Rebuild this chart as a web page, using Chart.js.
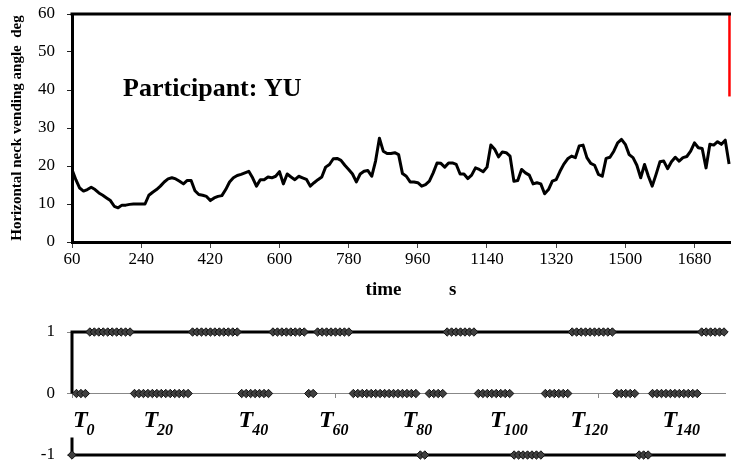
<!DOCTYPE html>
<html lang="en">
  <head>
    <meta charset="UTF-8" />
    <title>Participant YU - neck bending angle</title>
    <style>
      body {
        margin: 0;
        background-color: #fff;
      }

      #wrap {
        position: relative;
        width: 731px;
        height: 464px;
        overflow: hidden;
      }

      canvas {
        position: absolute;
        left: 0;
      }

      #angle-chart {
        top: 0;
      }

      #state-chart {
        top: 310px;
      }
    </style>
  </head>
  <body>
    <div id="wrap">
      <canvas id="angle-chart" width="731" height="302"></canvas>
      <canvas id="state-chart" width="731" height="154"></canvas>
    </div>

    <script src="https://cdn.jsdelivr.net/npm/chart.js"></script>
    <script>
      // top chart: horizontal neck bending angle (deg), one sample every 10 s
      var startSec = 60;
      var stepSec = 10;
      var angle = [
        19.1, 16.4, 14.2, 13.4, 13.8, 14.4, 13.8, 12.9, 12.3, 11.6,
        10.9, 9.4, 9.0, 9.7, 9.7, 9.9, 10.0, 10.0, 10.0, 10.0,
        12.3, 13.1, 13.8, 14.7, 15.8, 16.6, 16.9, 16.6, 16.0, 15.3,
        16.2, 16.2, 13.5, 12.5, 12.3, 12.0, 10.9, 11.6, 12.0, 12.2,
        13.8, 15.8, 16.9, 17.5, 17.8, 18.2, 18.6, 16.9, 14.7, 16.4,
        16.4, 17.1, 16.9, 17.3, 18.5, 15.3, 17.9, 17.1, 16.4, 17.3,
        16.9, 16.5, 14.7, 15.6, 16.4, 17.1, 19.7, 20.4, 21.9, 22.0,
        21.5, 20.2, 19.1, 17.9, 15.8, 17.9, 18.6, 18.8, 17.3, 21.3,
        27.3, 23.9, 23.3, 23.3, 23.5, 23.0, 18.0, 17.3, 15.8, 15.8,
        15.6, 14.7, 15.1, 16.0, 18.2, 20.8, 20.7, 19.7, 20.8, 20.8,
        20.4, 17.9, 17.9, 16.7, 17.6, 19.5, 19.1, 18.5, 19.7, 25.5,
        24.4, 22.4, 23.7, 23.5, 22.6, 16.0, 16.2, 19.1, 18.2, 17.6,
        15.3, 15.6, 15.3, 12.7, 13.8, 16.0, 16.4, 18.6, 20.5, 21.9,
        22.6, 22.2, 25.3, 25.5, 22.2, 20.7, 20.2, 17.8, 17.3, 22.0,
        22.3, 23.9, 26.1, 27.0, 25.7, 23.0, 22.2, 20.2, 16.9, 20.4,
        17.3, 14.7, 17.8, 21.1, 21.3, 19.3, 21.1, 22.3, 21.3, 22.2,
        22.5, 23.9, 26.1, 24.8, 24.6, 19.5, 25.7, 25.5, 26.4, 25.7,
        26.8, 20.5
      ];
      var timeTicks = [60, 240, 420, 600, 780, 960, 1140, 1320, 1500, 1680];
      var timeMax = 1775;
      var angleMax = 60;
      var angleStep = 10;
      var redMarkSec = 1771;
      var redMarkRange = [38.3, 60];
      var participantLabel = "Participant: YU";
      var participantAt = [193, 38.3]; // [s, deg]

      // bottom chart: state of each sample (1, 0 or -1)
      var states = [
        -1, 0, 0, 0, 1, 1, 1, 1, 1, 1, 1, 1, 1, 1,
        0, 0, 0, 0, 0, 0, 0, 0, 0, 0, 0, 0, 0,
        1, 1, 1, 1, 1, 1, 1, 1, 1, 1, 1,
        0, 0, 0, 0, 0, 0, 0,
        1, 1, 1, 1, 1, 1, 1, 1,
        0, 0,
        1, 1, 1, 1, 1, 1, 1, 1,
        0, 0, 0, 0, 0, 0, 0, 0, 0, 0, 0, 0, 0, 0, 0,
        -1, -1,
        0, 0, 0, 0,
        1, 1, 1, 1, 1, 1, 1,
        0, 0, 0, 0, 0, 0, 0, 0,
        -1, -1, -1, -1, -1, -1, -1,
        0, 0, 0, 0, 0, 0,
        1, 1, 1, 1, 1, 1, 1, 1, 1, 1,
        0, 0, 0, 0, 0,
        -1, -1, -1,
        0, 0, 0, 0, 0, 0, 0, 0, 0, 0, 0,
        1, 1, 1, 1, 1, 1
      ];
      var stateTicks = [-1, 0, 1];
      var sampleTicks = [0, 59, 118];
      var sampleMax = 146.4;
      var tNames = ["0", "20", "40", "60", "80", "100", "120", "140"];
      var tAt = [0.2, 16, 37.3, 55.3, 74, 93.6, 111.6, 132.2];
      var tBaseline = -0.55;
      var axisGapEnd = -0.715;

      var serif = "'Liberation Serif', 'Times New Roman', serif";
      Chart.defaults.font.family = serif;
      Chart.defaults.color = "#000";

      var times = angle.map(function (v, i) {
        return startSec + i * stepSec;
      });

      // fixed width for the left axis, and no extra room for label overhang
      function fitLeftAxis(scale) {
        scale.width = 72;
        scale.paddingTop = 0;
        scale.paddingBottom = 0;
      }

      var angleFrame = {
        id: "angleFrame",
        afterDatasetsDraw: function (chart) {
          var a = chart.chartArea;
          var ctx = chart.ctx;
          ctx.save();
          ctx.strokeStyle = "#000";
          ctx.lineWidth = 3;
          ctx.beginPath();
          ctx.moveTo(a.left - 1.5, a.top);
          ctx.lineTo(a.right, a.top);
          ctx.stroke();

          ctx.fillStyle = "#000";
          ctx.font = "bold 26px " + serif;
          ctx.textBaseline = "alphabetic";
          ctx.fillText(
            participantLabel,
            chart.scales.x.getPixelForValue(participantAt[0]),
            chart.scales.y.getPixelForValue(participantAt[1])
          );
          ctx.restore();
        },
      };

      new Chart(document.getElementById("angle-chart"), {
        type: "line",
        data: {
          datasets: [
            {
              data: angle.map(function (v, i) {
                return { x: times[i], y: v };
              }),
              borderColor: "#000",
              borderWidth: 3,
              borderJoinStyle: "round",
              pointRadius: 0,
              tension: 0,
            },
            {
              data: redMarkRange.map(function (v) {
                return { x: redMarkSec, y: v };
              }),
              borderColor: "#ff0000",
              borderWidth: 2.5,
              pointRadius: 0,
              clip: false,
            },
          ],
        },
        options: {
          responsive: false,
          animation: false,
          devicePixelRatio: 1,
          layout: { padding: { top: 14, left: 0, right: 0, bottom: 0 } },
          plugins: { legend: { display: false }, tooltip: { enabled: false } },
          scales: {
            x: {
              type: "linear",
              min: startSec,
              max: timeMax,
              afterBuildTicks: function (scale) {
                scale.ticks = timeTicks.map(function (v) {
                  return { value: v };
                });
              },
              afterFit: function (scale) {
                scale.height = 60;
              },
              ticks: {
                autoSkip: false,
                maxRotation: 0,
                padding: 1,
                font: { size: 17 },
                callback: function (v) {
                  return String(v);
                },
              },
              grid: {
                drawOnChartArea: false,
                tickLength: 6,
                color: "#444",
              },
              border: { color: "#000", width: 3 },
              title: {
                display: true,
                text: "    time          s",
                font: { size: 19, weight: "bold" },
                padding: { top: 0, bottom: 1 },
              },
            },
            y: {
              min: 0,
              max: angleMax,
              ticks: {
                stepSize: angleStep,
                padding: 12,
                font: { size: 17 },
              },
              afterFit: fitLeftAxis,
              grid: {
                drawOnChartArea: false,
                tickLength: 5,
                color: "#222",
              },
              border: { color: "#000", width: 3 },
              title: {
                display: true,
                text: "Horizontal neck vending angle  deg",
                font: { size: 15, weight: "bold" },
                padding: { top: 8, bottom: 0 },
              },
            },
          },
        },
        plugins: [angleFrame],
      });

      function statePoints(level) {
        var pts = [];
        for (var i = 0; i < states.length; i++) {
          if (states[i] === level) pts.push({ x: i, y: level });
        }
        return pts;
      }

      var stateFrame = {
        id: "stateFrame",
        beforeDatasetsDraw: function (chart) {
          var a = chart.chartArea;
          var ys = chart.scales.y;
          var ctx = chart.ctx;
          var yTop = ys.getPixelForValue(1);
          var yZero = ys.getPixelForValue(0);
          var yBot = ys.getPixelForValue(-1);
          var yGap = ys.getPixelForValue(axisGapEnd);
          ctx.save();
          ctx.strokeStyle = "#000";
          ctx.lineWidth = 3;
          ctx.beginPath();
          ctx.moveTo(a.left - 1.5, yTop);
          ctx.lineTo(a.right, yTop);
          ctx.moveTo(a.left, yBot);
          ctx.lineTo(a.right, yBot);
          ctx.moveTo(a.left, yTop);
          ctx.lineTo(a.left, yZero);
          ctx.moveTo(a.left, yGap);
          ctx.lineTo(a.left, yBot);
          ctx.stroke();
          ctx.restore();
        },
        afterDraw: function (chart) {
          var xs = chart.scales.x;
          var ys = chart.scales.y;
          var ctx = chart.ctx;
          var y = ys.getPixelForValue(tBaseline);
          ctx.save();
          ctx.fillStyle = "#000";
          ctx.textBaseline = "alphabetic";
          for (var i = 0; i < tNames.length; i++) {
            var x = xs.getPixelForValue(tAt[i]);
            ctx.font = "bold italic 24px " + serif;
            ctx.fillText("T", x, y);
            var w = ctx.measureText("T").width;
            ctx.font = "bold italic 16px " + serif;
            ctx.fillText(tNames[i], x + w - 1, y + 8);
          }
          ctx.restore();
        },
      };

      var diamond = {
        showLine: false,
        pointStyle: "rectRot",
        pointRadius: 4.2,
        pointBackgroundColor: "#404040",
        pointBorderColor: "#111",
        pointBorderWidth: 1,
        clip: false,
      };

      new Chart(document.getElementById("state-chart"), {
        type: "line",
        data: {
          datasets: [1, 0, -1].map(function (level) {
            return Object.assign({ data: statePoints(level) }, diamond);
          }),
        },
        options: {
          responsive: false,
          animation: false,
          devicePixelRatio: 1,
          layout: { padding: { top: 22, left: 0, right: 0, bottom: 9 } },
          plugins: { legend: { display: false }, tooltip: { enabled: false } },
          scales: {
            x: {
              type: "linear",
              min: 0,
              max: sampleMax,
              position: { y: 0 },
              afterBuildTicks: function (scale) {
                scale.ticks = sampleTicks.map(function (v) {
                  return { value: v };
                });
              },
              afterFit: function (scale) {
                scale.height = 0;
              },
              ticks: { display: false },
              grid: {
                drawOnChartArea: false,
                tickLength: 4,
                color: "#888",
              },
              border: { color: "#888", width: 1 },
            },
            y: {
              min: -1,
              max: 1,
              afterBuildTicks: function (scale) {
                scale.ticks = stateTicks.map(function (v) {
                  return { value: v };
                });
              },
              afterFit: fitLeftAxis,
              ticks: { padding: 12, font: { size: 17 } },
              grid: {
                drawOnChartArea: false,
                tickLength: 5,
                color: "#888",
              },
              border: { display: false },
            },
          },
        },
        plugins: [stateFrame],
      });
    </script>
  </body>
</html>
